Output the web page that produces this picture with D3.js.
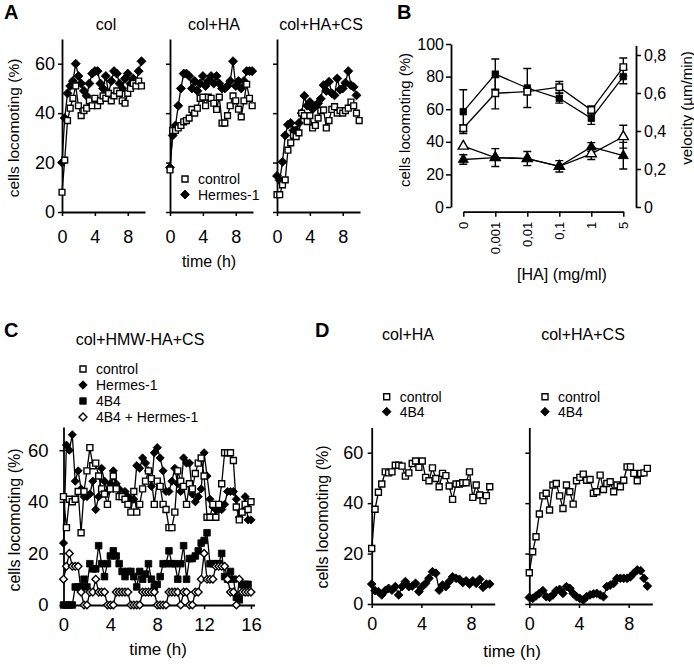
<!DOCTYPE html>
<html><head><meta charset="utf-8">
<script src="https://cdn.jsdelivr.net/npm/d3@7"></script>
<style>
body{margin:0;background:#fff}
svg{display:block;font-family:"Liberation Sans",Arial,Helvetica,sans-serif}
</style></head><body>
<svg id="c" width="694" height="667"></svg>
<script>
// ---------- Panel A data (time in h, % cells locomoting) ----------
const aTime = [0,0.33,0.67,1,1.33,1.67,2,2.33,2.67,3,3.33,3.67,4,4.33,4.67,5,5.33,5.67,6,6.33,6.67,7,7.33,7.67,8,8.33,8.67,9,9.33,9.67,10];
const aColCtrl = [8,21,37,42,46,51,43,39,41,42,45,43,46,43,45,47,46,48,45,47,49,48,45,44,48,50,52,51,53,51];
const aColHer  = [20,38,48,51,53,60,55,52,49,47,52,56,57,57,52,50,55,48,53,57,56,52,50,54,56,52,54,52,57,61];
const aHaCtrl  = [17,33,33,34,35,36.5,37,38,41.5,40,42,46,46.5,43,46.5,46,44,41.5,46.5,36,36,39,43,47,45,41.6,38.5,45,51.7,46,43];
const aHaHer   = [18,31,35,43,50,56,56,55,50,53,49,52,55,51,53,55,52,55,52,50,50,51,53,61,51,53,50,53,57,57,57];
const aCsCtrl  = [7,7,11,13,25,28,31,30.5,32,40,39,36.6,39,34,35,38,41,41.3,34,37,41.5,42.6,40,41,40,41,42,44.5,43,40,37];
const aCsHer   = [14.6,12.8,20.3,31,35.3,36,33,33,36,40,47,43,44.5,41.6,43,44,45.8,51.3,49,52.7,48,47.2,54,49.5,50,52.3,57,51.3,50.6,47.2];
const aTitles = ["col","col+HA","col+HA+CS"];
const aTicksY = [0,20,40,60];
const aTicksX = [0,4,8];

// ---------- Panel B data ----------
const bConc = ["0","0,001","0,01","0,1","1","5"];
const bSqFilled    = [58.5,81.5,73,66.7,54.4,80];
const bSqFilledErr = [13.4,9.3,12,3,3.7,4.4];
const bSqOpen      = [48.3,69.8,70.8,73.5,59.5,85.8];
const bSqOpenErr   = [2,9.6,2,3.5,2.5,5.6];
const bTriOpen     = [0.32,0.26,0.255,0.214,0.28,0.37];
const bTriOpenErr  = [0,0,0,0,0.03,0.06];
const bTriFilled   = [0.25,0.26,0.255,0.214,0.316,0.27];
const bTriFilledErr= [0.025,0.047,0.037,0.03,0.023,0.07];
const bTicksL = [0,20,40,60,80,100];
const bTicksR = [0,0.2,0.4,0.6,0.8];

// ---------- Panel C data ----------
const cTime = [0,0.25,0.5,0.75,1,1.25,1.5,1.75,2,2.25,2.5,2.75,3,3.25,3.5,3.75,4,4.25,4.5,4.75,5,5.25,5.5,5.75,6,6.25,6.5,6.75,7,7.25,7.5,7.75,8,8.25,8.5,8.75,9,9.25,9.5,9.75,10,10.25,10.5,10.75,11,11.25,11.5,11.75,12,12.25,12.5,12.75,13,13.25,13.5,13.75,14,14.25,14.5,14.75,15,15.25,15.5,15.75,16];
const cCtrl   = [42,30,41,40,41,44,28,44,52,61,54,55,50,45,43,39,45,50,45,42,42,41,39,36,44,36,39,45,48,52,49,39,48,46,39,37,30,30,36,52,48,46,39,47,45,51,55,57,50,34,34,39,34,39,47,59,59,59,56,38,33,36,39,37,40];
const cHermes = [24,62,60,66,48,52,45,42,42,43,48,37,42,53,48,44,47,52,47,45,42,44,42,41,41,54,53,57,55,52,46,59,61,57,52,44,44,48,53,47,44,57,55,55,43,40,42,45,59,50,41,38,37,37,37,39,44,44,44,41,34,36,42,33,33];
const c4B4    = [0,0,0,0,7,7,7,10,7,16,14,14,23,16,11,16,19,21,19,16,13,11,13,13,11,7,13,10,12,16,10,7,8,11,16,16,21,16,16,10,16,23,10,18,18,19,21,24,25,28,16,16,16,16,20,11,10,13,10,3,2,8,8,8];
const cBoth   = [10,15,20,15,15,15,5,0,0,5,5,10,5,5,5,0,0,0,5,5,5,5,5,0,0,0,0,5,5,5,5,5,0,0,0,0,5,5,5,5,0,5,5,0,0,5,5,10,20,10,10,10,15,15,15,15,10,5,5,0,10,5,5,5,5];
const cLegend = ["control","Hermes-1","4B4","4B4 + Hermes-1"];
const cTicksX = [0,4,8,12,16];

// ---------- Panel D data ----------
const dTime = [0,0.27,0.54,0.81,1.09,1.36,1.63,1.9,2.17,2.44,2.71,2.99,3.26,3.53,3.8,4.07,4.34,4.61,4.89,5.16,5.43,5.7,5.97,6.24,6.51,6.79,7.06,7.33,7.6,7.87,8.14,8.41,8.69,8.96,9.23,9.5];
const dHaCtrl = [22,37.6,44.3,47.6,52.4,52,52.4,55,55,54.7,50.7,52,55.7,56.7,54.2,56.7,50.2,48.9,54,49.8,46.5,51.8,50.9,46.8,41.5,47.6,47.6,48.1,48.1,52.4,42.3,47.2,43.2,41,43,46.5];
const dHa4B4  = [7.9,5.3,4.9,3.6,5.3,6.2,5.5,6.9,3.6,6.9,8.9,6.9,7.1,8.2,4.9,6.9,8.2,10.2,12.8,12.2,5.5,7.5,6.9,8.9,10.8,10.2,9.8,8.5,9.2,7.9,9.2,8.2,9.8,6.6,7.9,7.9];
const dCsCtrl = [12.4,20.7,26.7,35.7,42.9,43.9,37.3,47.2,47.8,42.9,37.9,47.2,44.5,39.6,48.9,50.2,51.5,49.1,49.4,43.9,44.5,51.1,45.4,47.8,48.5,44.5,47.2,46.5,49.1,54.4,54.4,51.8,48.9,51.8,52,53.8];
const dCs4B4  = [2.6,2.2,3.2,4.2,5.3,2.9,2.6,3.6,5.3,5.8,4.2,6.9,6.2,4.2,2.9,2.2,1.6,2.9,3.6,4,4.2,3.6,2.9,6.9,7.5,8.2,10.2,10.2,10.2,10.2,10.8,12.2,13.5,13.2,10.2,7.1];
const dTitles = ["col+HA","col+HA+CS"];

// ---------- helpers ----------
const svg = d3.select("#c");
svg.append("rect").attr("width",694).attr("height",667).attr("fill","#fff");

function symPath(type, s){
  if (type.startsWith("tri")) return d3.symbol(d3.symbolTriangle, s*s*0.55)();
  return d3.symbol(d3.symbolSquare, s*s)();
}
function markers(g, pts, type, s){
  const open = type.endsWith("Open");
  const dia = type.startsWith("dia");
  g.append("g").selectAll("path").data(pts).join("path")
    .attr("d", symPath(type, s))
    .attr("transform", p => `translate(${p[0]},${p[1]})${dia?" rotate(45)":""}`)
    .attr("fill", open ? "#fff" : "#000")
    .attr("stroke", "#000").attr("stroke-width", open ? 1.4 : 0.8);
}
function series(g, xv, yv, xs, ys, type, s){
  const pts = yv.map((v,i)=>[xs(xv[i]), ys(v)]);
  g.append("path").attr("d", d3.line()(pts)).attr("fill","none")
    .attr("stroke","#000").attr("stroke-width",1.3);
  markers(g, pts, type, s);
}
function styleAxis(sel, fs){
  sel.select(".domain").attr("stroke","#000").attr("stroke-width",1.8);
  sel.selectAll(".tick line").attr("stroke","#000").attr("stroke-width",1.5);
  sel.selectAll(".tick text").attr("fill","#000").attr("font-size",fs)
    .attr("font-family",'"Liberation Sans",Arial,sans-serif');
}
function text(x,y,str,opt={}){
  const t = svg.append("text").attr("x",x).attr("y",y).text(str)
    .attr("font-size",opt.fs||16).attr("text-anchor",opt.anchor||"middle")
    .attr("fill","#000");
  if (opt.bold) t.attr("font-weight","bold");
  return t;
}
function vtext(cx,cy,str,fs){
  svg.append("text").attr("transform",`translate(${cx},${cy}) rotate(-90)`)
    .attr("text-anchor","middle").attr("dy","0.35em").attr("font-size",fs)
    .attr("fill","#000").text(str);
}
function legendRow(x,y,type,s,label,fs){
  const g = svg.append("g");
  markers(g, [[x,y]], type, s);
  text(x+13, y+5, label, {fs:fs, anchor:"start"});
}

// ---------- Panel A ----------
const aY = d3.scaleLinear().domain([0,70]).range([212,39]);
const aX0 = [62,170,277];
const aSeries = [[aColCtrl,aColHer],[aHaCtrl,aHaHer],[aCsCtrl,aCsHer]];
aX0.forEach((x0,k)=>{
  const xs = d3.scaleLinear().domain([0,10.1]).range([x0,x0+83]);
  const g = svg.append("g");
  const ya = g.append("g").attr("transform",`translate(${x0},0)`)
    .call(d3.axisLeft(aY).tickValues(aTicksY).tickSize(4).tickPadding(3).tickSizeOuter(0)
      .tickFormat(k===0? d3.format("d") : ""));
  styleAxis(ya, 18);
  const xa = g.append("g").attr("transform",`translate(0,212)`)
    .call(d3.axisBottom(xs).tickValues(aTicksX).tickSize(4).tickPadding(14).tickSizeOuter(0));
  styleAxis(xa, 18);
  series(g, aTime, aSeries[k][1], xs, aY, "diaFilled", 6.4);
  series(g, aTime, aSeries[k][0], xs, aY, "sqOpen", 5.8);
  text(x0+44, 30, aTitles[k], {fs:16});
});
text(4, 19, "A", {fs:20, anchor:"start", bold:true});
vtext(14, 128, "cells locomoting (%)", 15.5);
text(209, 267, "time (h)", {fs:16});
legendRow(185, 179, "sqOpen", 6, "control", 14);
legendRow(185, 194.5, "diaFilled", 6.4, "Hermes-1", 14);

// ---------- Panel B ----------
const bX = d3.scalePoint().domain(bConc).range([463.3,623.3]);
const bYL = d3.scaleLinear().domain([0,100]).range([207,44]);
const bYR = d3.scaleLinear().domain([0,0.85]).range([207,45.5]);
const gB = svg.append("g");
const bl = gB.append("g").attr("transform","translate(451,0)")
  .call(d3.axisLeft(bYL).tickValues(bTicksL).tickSize(5).tickPadding(2).tickSizeOuter(0));
styleAxis(bl, 16);
const br = gB.append("g").attr("transform","translate(636,0)")
  .call(d3.axisRight(bYR).tickValues(bTicksR).tickSize(5).tickPadding(3).tickSizeOuter(0)
    .tickFormat(d => d===0 ? "0" : d3.format(".1f")(d).replace(".",",")));
styleAxis(br, 16);
const bb = gB.append("g").attr("transform","translate(0,211.7)")
  .call(d3.axisBottom(bX).tickSize(5).tickSizeOuter(0));
styleAxis(bb, 13);
bb.selectAll(".tick text").attr("transform","rotate(-90)").attr("text-anchor","end")
  .attr("x",-10).attr("y",0).attr("dy","0.35em");
function errBars(g, vals, errs, ys){
  vals.forEach((v,i)=>{
    if (!errs[i]) return;
    const x = bX(bConc[i]), y1 = ys(v+errs[i]), y2 = ys(v-errs[i]);
    g.append("path").attr("d",`M${x},${y1}V${y2}M${x-4},${y1}H${x+4}M${x-4},${y2}H${x+4}`)
      .attr("stroke","#000").attr("stroke-width",1.4).attr("fill","none");
  });
}
const bXv = bConc.map(c=>c);
const bxs = c => bX(c);
errBars(gB, bSqFilled, bSqFilledErr, bYL);
errBars(gB, bSqOpen, bSqOpenErr, bYL);
errBars(gB, bTriOpen, bTriOpenErr, bYR);
errBars(gB, bTriFilled, bTriFilledErr, bYR);
series(gB, bXv, bSqFilled, bxs, bYL, "sqFilled", 6.5);
series(gB, bXv, bSqOpen, bxs, bYL, "sqOpen", 6.5);
series(gB, bXv, bTriOpen, bxs, bYR, "triOpen", 9);
series(gB, bXv, bTriFilled, bxs, bYR, "triFilled", 9);
text(397, 19, "B", {fs:20, anchor:"start", bold:true});
vtext(405, 120, "cells locomoting (%)", 15);
vtext(687, 108, "velocity (µm/min)", 15);
text(562, 280, "[HA] (mg/ml)", {fs:16});

// ---------- Panel C ----------
const cX = d3.scaleLinear().domain([0,16.3]).range([63.5,254.5]);
const cY = d3.scaleLinear().domain([0,69]).range([605,427]);
const gC = svg.append("g");
const cyA = gC.append("g").attr("transform","translate(63.5,0)")
  .call(d3.axisLeft(cY).tickValues(aTicksY).tickSize(4).tickPadding(11).tickSizeOuter(0));
styleAxis(cyA, 18.5);
const cxA = gC.append("g").attr("transform","translate(0,605)")
  .call(d3.axisBottom(cX).tickValues(cTicksX).tickSize(4).tickPadding(9).tickSizeOuter(0));
styleAxis(cxA, 18.5);
series(gC, cTime, cHermes, cX, cY, "diaFilled", 5.8);
series(gC, cTime, cCtrl, cX, cY, "sqOpen", 6);
series(gC, cTime, c4B4, cX, cY, "sqFilled", 6.6);
series(gC, cTime, cBoth, cX, cY, "diaOpen", 5.4);
text(4, 337, "C", {fs:20, anchor:"start", bold:true});
text(140, 345, "col+HMW-HA+CS", {fs:16});
const cTypes = ["sqOpen","diaFilled","sqFilled","diaOpen"];
const cSizes = [6,6,6.5,5.6];
cLegend.forEach((l,i)=> legendRow(83, 369+i*16, cTypes[i], cSizes[i], l, 14));
vtext(14, 520, "cells locomoting (%)", 16);
text(158, 655, "time (h)", {fs:17});

// ---------- Panel D ----------
const dY = d3.scaleLinear().domain([0,70]).range([604,427.5]);
const dX0 = [371.7, 529.3];
const dSeries = [[dHaCtrl,dHa4B4],[dCsCtrl,dCs4B4]];
dX0.forEach((x0,k)=>{
  const xs = d3.scaleLinear().domain([0,9.9]).range([x0, x0+123]);
  const g = svg.append("g");
  const ya = g.append("g").attr("transform",`translate(${x0},0)`)
    .call(d3.axisLeft(dY).tickValues(aTicksY).tickSize(4).tickPadding(4.5).tickSizeOuter(0)
      .tickFormat(k===0? d3.format("d") : ""));
  styleAxis(ya, 18);
  const xa = g.append("g").attr("transform",`translate(0,604)`)
    .call(d3.axisBottom(xs).tickValues(aTicksX).tickSize(4).tickPadding(9).tickSizeOuter(0));
  styleAxis(xa, 18);
  series(g, dTime, dSeries[k][1], xs, dY, "diaFilled", 6.2);
  series(g, dTime, dSeries[k][0], xs, dY, "sqOpen", 6);
  const lx = k===0 ? 386.7 : 545;
  legendRow(lx, 396.7, "sqOpen", 6, "control", 14);
  legendRow(lx, 411.7, "diaFilled", 6.2, "4B4", 14);
  text(k===0 ? 408 : 583, 340, dTitles[k], {fs:16});
});
text(315, 337, "D", {fs:20, anchor:"start", bold:true});
vtext(322, 517, "cells locomoting (%)", 16);
text(512, 657, "time (h)", {fs:17});
</script>
</body></html>
